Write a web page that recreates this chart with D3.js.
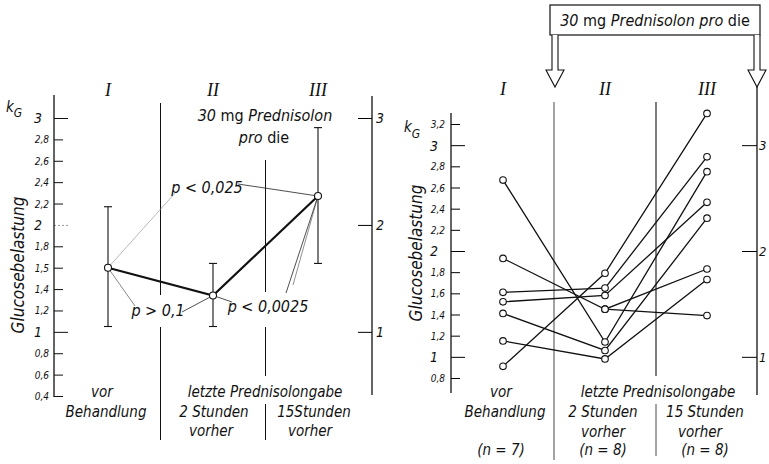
<!DOCTYPE html>
<html><head><meta charset="utf-8">
<script src="https://cdn.jsdelivr.net/npm/d3@7"></script>
<style>
body{margin:0;background:#fff}
svg{display:block}
text{font-family:"Liberation Sans Narrow","DejaVu Sans Condensed",sans-serif;font-style:italic;fill:#111}
.roman{font-family:"Liberation Serif","DejaVu Serif",serif;font-size:18px}
.up{font-style:normal}
</style></head><body>
<svg id="screen" width="769" height="464"></svg>
<script>
// left panel: means with spread
var stages = ["I", "II", "III"];
var meanKG = [1.6, 1.34, 2.27];
var lowKG = [1.05, 1.05, 1.64];
var highKG = [2.17, 1.64, 2.91];
var leftTicks = [3, 2.8, 2.6, 2.4, 2.2, 2, 1.8, 1.6, 1.4, 1.2, 1, 0.8, 0.6, 0.4];
var leftTickLabels = ["3", "2,8", "2,6", "2,4", "2,2", "2", "1,8", "1,5", "1,4", "1,2", "1", "0,8", "0,6", "0,4"];
var sideTicks = [3, 2, 1];
var pLabels = ["p > 0,1", "p < 0,025", "p < 0,0025"];

// right panel: single patients (null = no value)
var patI   = [2.67, 1.93, 1.61, 1.52, 1.41, 1.15, 0.91, null];
var patII  = [1.14, 1.45, 1.65, 1.58, 1.06, 0.98, 1.79, 1.45];
var patIII = [2.75, 1.83, 2.89, 2.46, 2.31, 1.73, 3.30, 1.39];
var rightTicks = [3.2, 3, 2.8, 2.6, 2.4, 2.2, 2, 1.8, 1.6, 1.4, 1.2, 1, 0.8];
var rightTickLabels = ["3,2", "3", "2,8", "2,6", "2,4", "2,2", "2", "1,8", "1,6", "1,4", "1,2", "1", "0,8"];
var nCounts = ["(n = 7)", "(n = 8)", "(n = 8)"];

var svg = d3.select("#screen");
var isMajor = function(d){ return d === 1 || d === 2 || d === 3; };

function line(g, x1, y1, x2, y2, w, col, dash){
    var l = g.append("line").attr("x1", x1).attr("y1", y1).attr("x2", x2).attr("y2", y2)
        .attr("stroke", col || "#111").attr("stroke-width", w || 1);
    if(dash) l.attr("stroke-dasharray", dash);
    return l;
}
function txt(g, x, y, s, size, anchor){
    return g.append("text").attr("x", x).attr("y", y).attr("font-size", size)
        .attr("text-anchor", anchor || "middle").text(s);
}

// scales
var xL = d3.scalePoint().domain(stages).range([108, 318]);
var yL = d3.scaleLinear().domain([0.4, 3]).range([396, 118]);
var xR = d3.scalePoint().domain(stages).range([503, 707]);
var yR = d3.scaleLinear().domain([0.8, 3.2]).range([378, 124]);

// ---------- left panel ----------
var L = svg.append("g");

// left axis
var axL = L.append("g").attr("transform", "translate(54,0)")
    .call(d3.axisRight(yL).tickValues(leftTicks).tickSizeOuter(0)
        .tickFormat(function(d, i){ return leftTickLabels[i]; }));
axL.select(".domain").remove();
axL.selectAll(".tick line").attr("x2", function(d){ return isMajor(d) ? 14 : 9; })
    .attr("stroke", function(d){ return d === 2 ? "#999" : "#111"; })
    .attr("stroke-dasharray", function(d){ return d === 2 ? "2,2" : null; });
axL.selectAll(".tick text").attr("x", function(d){ return isMajor(d) ? -12 : -5; })
    .attr("text-anchor", "end").attr("dy", "0.35em")
    .attr("font-size", function(d){ return isMajor(d) ? 14 : 10; })
    .attr("font-family", null);
line(L, 54, 95, 54, 397, 1.3);

// right side axis
var axL2 = L.append("g").attr("transform", "translate(372,0)")
    .call(d3.axisLeft(yL).tickValues(sideTicks).tickSizeInner(14).tickSizeOuter(0).tickFormat(d3.format("d")));
axL2.select(".domain").remove();
axL2.selectAll(".tick text").attr("x", 4).attr("text-anchor", "start").attr("font-size", 14).attr("font-family", null);
line(L, 372, 96, 372, 395, 1.3);

// k_G and axis title
var kg = L.append("text").attr("x", 6).attr("y", 112).attr("font-size", 15);
kg.append("tspan").text("k");
kg.append("tspan").attr("dy", 5).attr("font-size", 12).text("G");
L.append("text").attr("transform", "translate(24,265) rotate(-90)").attr("text-anchor", "middle")
    .attr("font-size", 17).text("Glucosebelastung");

// roman numerals
stages.forEach(function(s){
    L.append("text").attr("class", "roman").attr("x", xL(s)).attr("y", 96).attr("text-anchor", "middle").text(s);
});

// dividers (gaps for labels)
var dL1 = (xL("I") + xL("II")) / 2, dL2 = (xL("II") + xL("III")) / 2;
line(L, dL1, 103, dL1, 295, 1);
line(L, dL1, 327, dL1, 440, 1);
line(L, dL2, 160, dL2, 292, 1);
line(L, dL2, 327, dL2, 376, 1);
line(L, dL2, 404, dL2, 440, 1);

// spread bars
stages.forEach(function(s, i){
    var x = xL(s);
    line(L, x, yL(highKG[i]), x, yL(lowKG[i]), 1.1);
    line(L, x - 4, yL(highKG[i]), x + 4, yL(highKG[i]), 1.1);
    line(L, x - 4, yL(lowKG[i]), x + 4, yL(lowKG[i]), 1.1);
});

// significance lines
var pI = [xL("I"), yL(meanKG[0])], pII = [xL("II"), yL(meanKG[1])], pIII = [xL("III"), yL(meanKG[2])];
line(L, pI[0], pI[1], 135, 306, 0.7, "#555");
line(L, 182, 312, pII[0], pII[1], 0.8, "#222");
line(L, pII[0], pII[1], 232, 302, 0.8, "#222");
line(L, 286, 293, pIII[0], pIII[1], 0.8, "#222");
line(L, 293, 285, pIII[0], pIII[1], 0.6, "#444");
line(L, pI[0], pI[1], 176, 192, 0.6, "#888");
line(L, 238, 184, pIII[0], pIII[1], 0.8, "#222");

// mean line
L.append("path").datum(meanKG)
    .attr("d", d3.line().x(function(d, i){ return xL(stages[i]); }).y(function(d){ return yL(d); }))
    .attr("fill", "none").attr("stroke", "#111").attr("stroke-width", 2.2);
L.selectAll("circle.mean").data(meanKG).enter().append("circle")
    .attr("cx", function(d, i){ return xL(stages[i]); }).attr("cy", function(d){ return yL(d); })
    .attr("r", 3.5).attr("fill", "#fff").attr("stroke", "#111").attr("stroke-width", 1.1);

txt(L, 158, 316, pLabels[0], 16);
txt(L, 207, 193, pLabels[1], 16);
txt(L, 268, 312, pLabels[2], 16);

// dose note
var n1 = L.append("text").attr("x", 265).attr("y", 121).attr("text-anchor", "middle").attr("font-size", 16);
n1.append("tspan").text("30 ");
n1.append("tspan").attr("class", "up").text("mg");
n1.append("tspan").text(" Prednisolon");
var n2 = L.append("text").attr("x", 264).attr("y", 143).attr("text-anchor", "middle").attr("font-size", 16);
n2.append("tspan").text("pro ");
n2.append("tspan").attr("class", "up").text("die");

// bottom labels
txt(L, 102, 397, "vor", 15);
txt(L, 106, 417, "Behandlung", 15);
txt(L, 265, 397, "letzte Prednisolongabe", 15);
txt(L, 214, 417, "2 Stunden", 15);
txt(L, 211, 436, "vorher", 15);
txt(L, 314, 417, "15Stunden", 15);
txt(L, 310, 436, "vorher", 15);

// ---------- right panel ----------
var R = svg.append("g");

var axR = R.append("g").attr("transform", "translate(451,0)")
    .call(d3.axisRight(yR).tickValues(rightTicks).tickSizeOuter(0)
        .tickFormat(function(d, i){ return rightTickLabels[i]; }));
axR.select(".domain").remove();
axR.selectAll(".tick line").attr("x2", function(d){ return isMajor(d) ? 14 : 9; });
axR.selectAll(".tick text").attr("x", function(d){ return isMajor(d) ? -13 : -6; })
    .attr("text-anchor", "end").attr("dy", "0.35em")
    .attr("font-size", function(d){ return isMajor(d) ? 14 : 10; })
    .attr("font-family", null);
line(R, 451, 113, 451, 393, 1.3);

var axR2 = R.append("g").attr("transform", "translate(757,0)")
    .call(d3.axisLeft(yR).tickValues(sideTicks).tickSizeInner(15).tickSizeOuter(0).tickFormat(d3.format("d")));
axR2.select(".domain").remove();
axR2.selectAll(".tick text").attr("x", 2).attr("text-anchor", "start").attr("font-size", 13).attr("font-family", null);
line(R, 757, 86, 757, 395, 1.3);

var kg2 = R.append("text").attr("x", 404).attr("y", 132).attr("font-size", 15);
kg2.append("tspan").text("k");
kg2.append("tspan").attr("dy", 6).attr("font-size", 12).text("G");
R.append("text").attr("transform", "translate(422,253) rotate(-90)").attr("text-anchor", "middle")
    .attr("font-size", 17).text("Glucosebelastung");

stages.forEach(function(s){
    R.append("text").attr("class", "roman").attr("x", xR(s)).attr("y", 95).attr("text-anchor", "middle").text(s);
});

var dR1 = (xR("I") + xR("II")) / 2, dR2 = (xR("II") + xR("III")) / 2;
line(R, dR1, 102, dR1, 460, 0.9, "#333");
line(R, dR2, 102, dR2, 376, 1.1);
line(R, dR2, 404, dR2, 456, 0.9, "#333");

// header box and arrows
R.append("rect").attr("x", 550).attr("y", 5).attr("width", 210).attr("height", 30)
    .attr("fill", "#fff").attr("stroke", "#111").attr("stroke-width", 1.2);
var h = R.append("text").attr("x", 655).attr("y", 26).attr("text-anchor", "middle").attr("font-size", 16);
h.append("tspan").text("30 ");
h.append("tspan").attr("class", "up").text("mg");
h.append("tspan").text(" Prednisolon pro ");
h.append("tspan").attr("class", "up").text("die");
[555, 757].forEach(function(cx){
    R.append("path")
        .attr("d", "M" + (cx - 3) + ",35 V70 H" + (cx - 9) + " L" + cx + ",87 L" + (cx + 9) + ",70 H" + (cx + 3) + " V35")
        .attr("fill", "#fff").attr("stroke", "#111").attr("stroke-width", 1.1);
});

// patient lines
var pats = patI.map(function(d, i){ return [d, patII[i], patIII[i]]; });
var pl = d3.line().defined(function(d){ return d != null; })
    .x(function(d, i){ return xR(stages[i]); }).y(function(d){ return yR(d); });
R.selectAll("path.pat").data(pats).enter().append("path")
    .attr("d", pl).attr("fill", "none").attr("stroke", "#111").attr("stroke-width", 1.3);
var pts = [];
pats.forEach(function(p){ p.forEach(function(v, j){ if(v != null) pts.push([stages[j], v]); }); });
R.selectAll("circle.pt").data(pts).enter().append("circle")
    .attr("cx", function(d){ return xR(d[0]); }).attr("cy", function(d){ return yR(d[1]); })
    .attr("r", 3.3).attr("fill", "#fff").attr("stroke", "#111").attr("stroke-width", 1.1);

txt(R, 501, 397, "vor", 15);
txt(R, 505, 417, "Behandlung", 15);
txt(R, 658, 397, "letzte Prednisolongabe", 15);
txt(R, 603, 417, "2 Stunden", 15);
txt(R, 603, 437, "vorher", 15);
txt(R, 705, 417, "15 Stunden", 15);
txt(R, 700, 437, "vorher", 15);
stages.forEach(function(s, i){
    txt(R, xR(s) - 2, 455, nCounts[i], 15);
});
</script>
</body></html>
